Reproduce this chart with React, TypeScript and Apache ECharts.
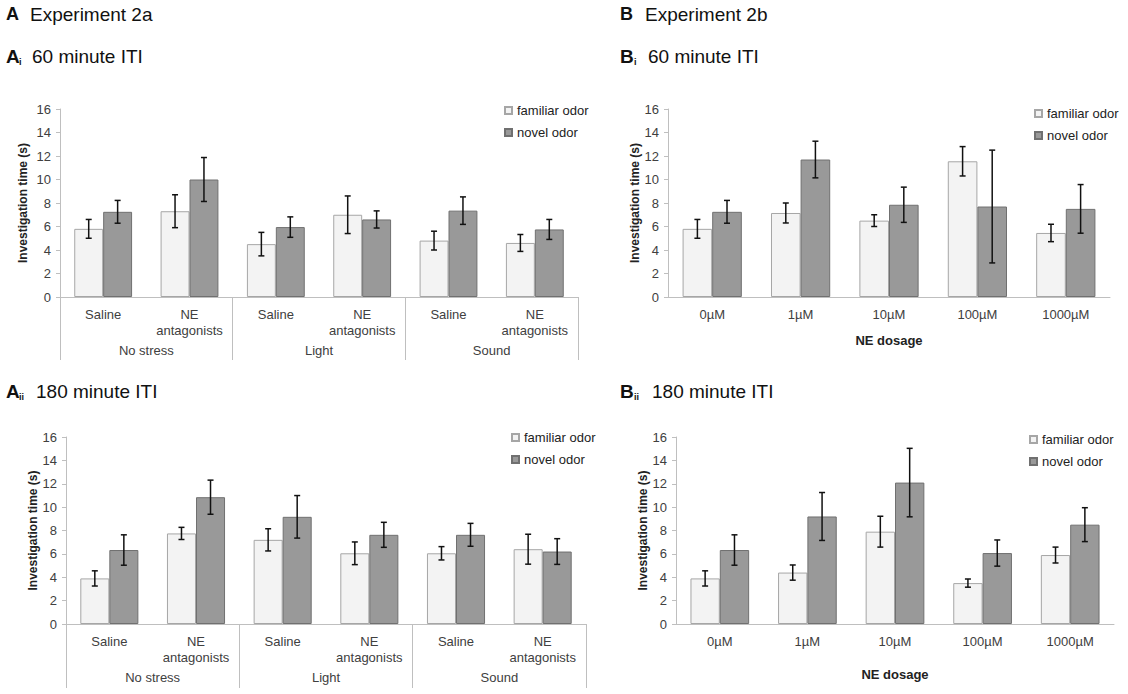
import React, { useEffect, useRef } from "react";
import * as echarts from "echarts";

const A_CATS = ["Saline", "NE\nantagonists", "Saline", "NE\nantagonists", "Saline", "NE\nantagonists"];
const A_GROUPS = ["No stress", "Light", "Sound"];
const B_CATS = ["0µM", "1µM", "10µM", "100µM", "1000µM"];
const Y_TICKS = [0, 2, 4, 6, 8, 10, 12, 14, 16];

const Ai_familiar = [5.8, 7.3, 4.5, 7.0, 4.8, 4.6];
const Ai_familiarErr = [0.8, 1.4, 1.0, 1.6, 0.8, 0.72];
const Ai_novel = [7.25, 10.0, 5.95, 6.6, 7.35, 5.75];
const Ai_novelErr = [0.97, 1.87, 0.87, 0.73, 1.17, 0.85];

const Aii_familiar = [3.9, 7.75, 7.2, 6.05, 6.05, 6.4];
const Aii_familiarErr = [0.65, 0.52, 0.95, 0.97, 0.57, 1.28];
const Aii_novel = [6.33, 10.85, 9.17, 7.63, 7.63, 6.2];
const Aii_novelErr = [1.3, 1.46, 1.82, 1.07, 0.98, 1.1];

const Bi_familiar = [5.8, 7.15, 6.5, 11.55, 5.45];
const Bi_familiarErr = [0.8, 0.85, 0.5, 1.25, 0.74];
const Bi_novel = [7.25, 11.7, 7.85, 7.7, 7.5];
const Bi_novelErr = [0.97, 1.56, 1.5, 4.8, 2.07];

const Bii_familiar = [3.9, 4.4, 7.9, 3.5, 5.9];
const Bii_familiarErr = [0.65, 0.65, 1.32, 0.35, 0.68];
const Bii_novel = [6.33, 9.2, 12.1, 6.07, 8.5];
const Bii_novelErr = [1.3, 2.05, 2.93, 1.12, 1.45];

const FONT = "'Liberation Sans', Arial, sans-serif";
const TXT = "#404040";
const AXIS = "#bfbfbf";
const GAP = 0.33;

const famStyle = { color: "#f3f3f3", borderColor: "#a6a6a6", borderWidth: 1 };
const novStyle = { color: "#999999", borderColor: "#707070", borderWidth: 1 };

function errSeries(xi: number, yi: number, means: number[], errs: number[], side: number) {
  return {
    type: "custom",
    xAxisIndex: xi,
    yAxisIndex: yi,
    z: 10,
    silent: true,
    encode: { x: 0, y: [1, 2] },
    data: means.map((m, i) => [i, m - errs[i], m + errs[i], side]),
    renderItem: (params: any, api: any) => {
      const ci = api.value(0);
      const lo = api.coord([ci, api.value(1)]);
      const hi = api.coord([ci, api.value(2)]);
      const bw = api.size([1, 0])[0];
      const x = lo[0] + api.value(3) * bw * (1 - GAP) / 4;
      const st = { stroke: "#111", lineWidth: 1.5 };
      return {
        type: "group",
        children: [
          { type: "line", shape: { x1: x, y1: lo[1], x2: x, y2: hi[1] }, style: st },
          { type: "line", shape: { x1: x - 3, y1: lo[1], x2: x + 3, y2: lo[1] }, style: st },
          { type: "line", shape: { x1: x - 3, y1: hi[1], x2: x + 3, y2: hi[1] }, style: st },
        ],
      };
    },
  };
}

function panelSeries(xi: number, yi: number, fam: number[], famE: number[], nov: number[], novE: number[]) {
  return [
    { name: "familiar odor", type: "bar", xAxisIndex: xi, yAxisIndex: yi, data: fam, barGap: "0%", barCategoryGap: "33%", itemStyle: famStyle },
    { name: "novel odor", type: "bar", xAxisIndex: xi, yAxisIndex: yi, data: nov, barGap: "0%", barCategoryGap: "33%", itemStyle: novStyle },
    errSeries(xi, yi, fam, famE, -1),
    errSeries(xi, yi, nov, novE, 1),
  ];
}

function yAxis(gi: number, gap: number) {
  return {
    type: "value",
    gridIndex: gi,
    min: 0,
    max: 16,
    interval: 2,
    name: "Investigation time (s)",
    nameLocation: "middle",
    nameGap: gap,
    nameTextStyle: { fontFamily: FONT, fontSize: 12, fontWeight: "bold", color: "#222" },
    axisLine: { show: true, lineStyle: { color: AXIS } },
    axisTick: { show: true, length: 4, lineStyle: { color: AXIS } },
    splitLine: { show: false },
    axisLabel: { fontFamily: FONT, fontSize: 13, color: TXT, margin: 9, customValues: Y_TICKS },
  };
}

function catAxis(gi: number, data: string[], name?: string, nameGap?: number) {
  return {
    type: "category",
    gridIndex: gi,
    data,
    position: "bottom",
    name: name || "",
    nameLocation: "middle",
    nameGap: nameGap || 0,
    nameTextStyle: { fontFamily: FONT, fontSize: 13, fontWeight: "bold", color: "#222" },
    axisLine: { show: true, lineStyle: { color: AXIS } },
    axisTick: { show: false },
    axisLabel: { fontFamily: FONT, fontSize: 13, color: TXT, margin: 9, lineHeight: 16, interval: 0 },
  };
}

function groupAxis(gi: number, tickLen: number) {
  return {
    type: "category",
    gridIndex: gi,
    data: A_GROUPS,
    position: "bottom",
    axisLine: { show: false },
    axisTick: { show: true, length: tickLen, lineStyle: { color: AXIS }, interval: 0 },
    axisLabel: { fontFamily: FONT, fontSize: 13, color: TXT, margin: 47, interval: 0 },
  };
}

function legend(left: number, top: number) {
  return {
    orient: "vertical",
    left,
    top,
    icon: "rect",
    itemWidth: 7,
    itemHeight: 7,
    itemGap: 9,
    data: ["familiar odor", "novel odor"],
    textStyle: { fontFamily: FONT, fontSize: 13, color: "#222" },
    selectedMode: false,
  };
}

function txt(x: number, y: number, text: string, size: number, bold = false) {
  return {
    type: "text",
    x,
    y,
    style: { text, fontFamily: FONT, fontSize: size, fontWeight: bold ? "bold" : "normal", fill: "#111", verticalAlign: "middle" },
  };
}

export default function App() {
  const ref = useRef<HTMLDivElement>(null);
  useEffect(() => {
    if (!ref.current) return;
    const chart = echarts.init(ref.current, undefined, { renderer: "svg" });
    chart.setOption({
      animation: false,
      backgroundColor: "#ffffff",
      grid: [
        { left: 60, top: 109, width: 518, height: 188 },
        { left: 66, top: 437, width: 520, height: 187 },
        { left: 668, top: 109, width: 442, height: 188 },
        { left: 676, top: 437, width: 438, height: 187 },
      ],
      xAxis: [
        catAxis(0, A_CATS),
        groupAxis(0, 63),
        catAxis(1, A_CATS),
        groupAxis(1, 64),
        catAxis(2, B_CATS, "NE dosage", 37),
        catAxis(3, B_CATS, "NE dosage", 44),
      ],
      yAxis: [yAxis(0, 31), yAxis(1, 26), yAxis(2, 23), yAxis(3, 26)],
      legend: [legend(499, 99), legend(506, 426), legend(1029, 102), legend(1024, 428)],
      series: [
        ...panelSeries(0, 0, Ai_familiar, Ai_familiarErr, Ai_novel, Ai_novelErr),
        ...panelSeries(2, 1, Aii_familiar, Aii_familiarErr, Aii_novel, Aii_novelErr),
        ...panelSeries(4, 2, Bi_familiar, Bi_familiarErr, Bi_novel, Bi_novelErr),
        ...panelSeries(5, 3, Bii_familiar, Bii_familiarErr, Bii_novel, Bii_novelErr),
      ],
      graphic: [
        txt(6, 14, "A", 18, true),
        txt(30, 14, "Experiment 2a", 19),
        txt(6, 56, "A", 19, true),
        txt(19, 62, "i", 9, true),
        txt(32, 56, "60 minute ITI", 19),
        txt(6, 391, "A", 19, true),
        txt(19, 397, "ii", 9, true),
        txt(36, 391, "180 minute ITI", 19),
        txt(620, 14, "B", 18, true),
        txt(645, 14, "Experiment 2b", 19),
        txt(620, 56, "B", 19, true),
        txt(634, 62, "i", 9, true),
        txt(648, 56, "60 minute ITI", 19),
        txt(620, 391, "B", 19, true),
        txt(634, 397, "ii", 9, true),
        txt(652, 391, "180 minute ITI", 19),
      ],
    });
    return () => chart.dispose();
  }, []);
  return <div ref={ref} style={{ position: "fixed", left: 0, top: 0, width: 1128, height: 694, background: "#fff" }} />;
}
